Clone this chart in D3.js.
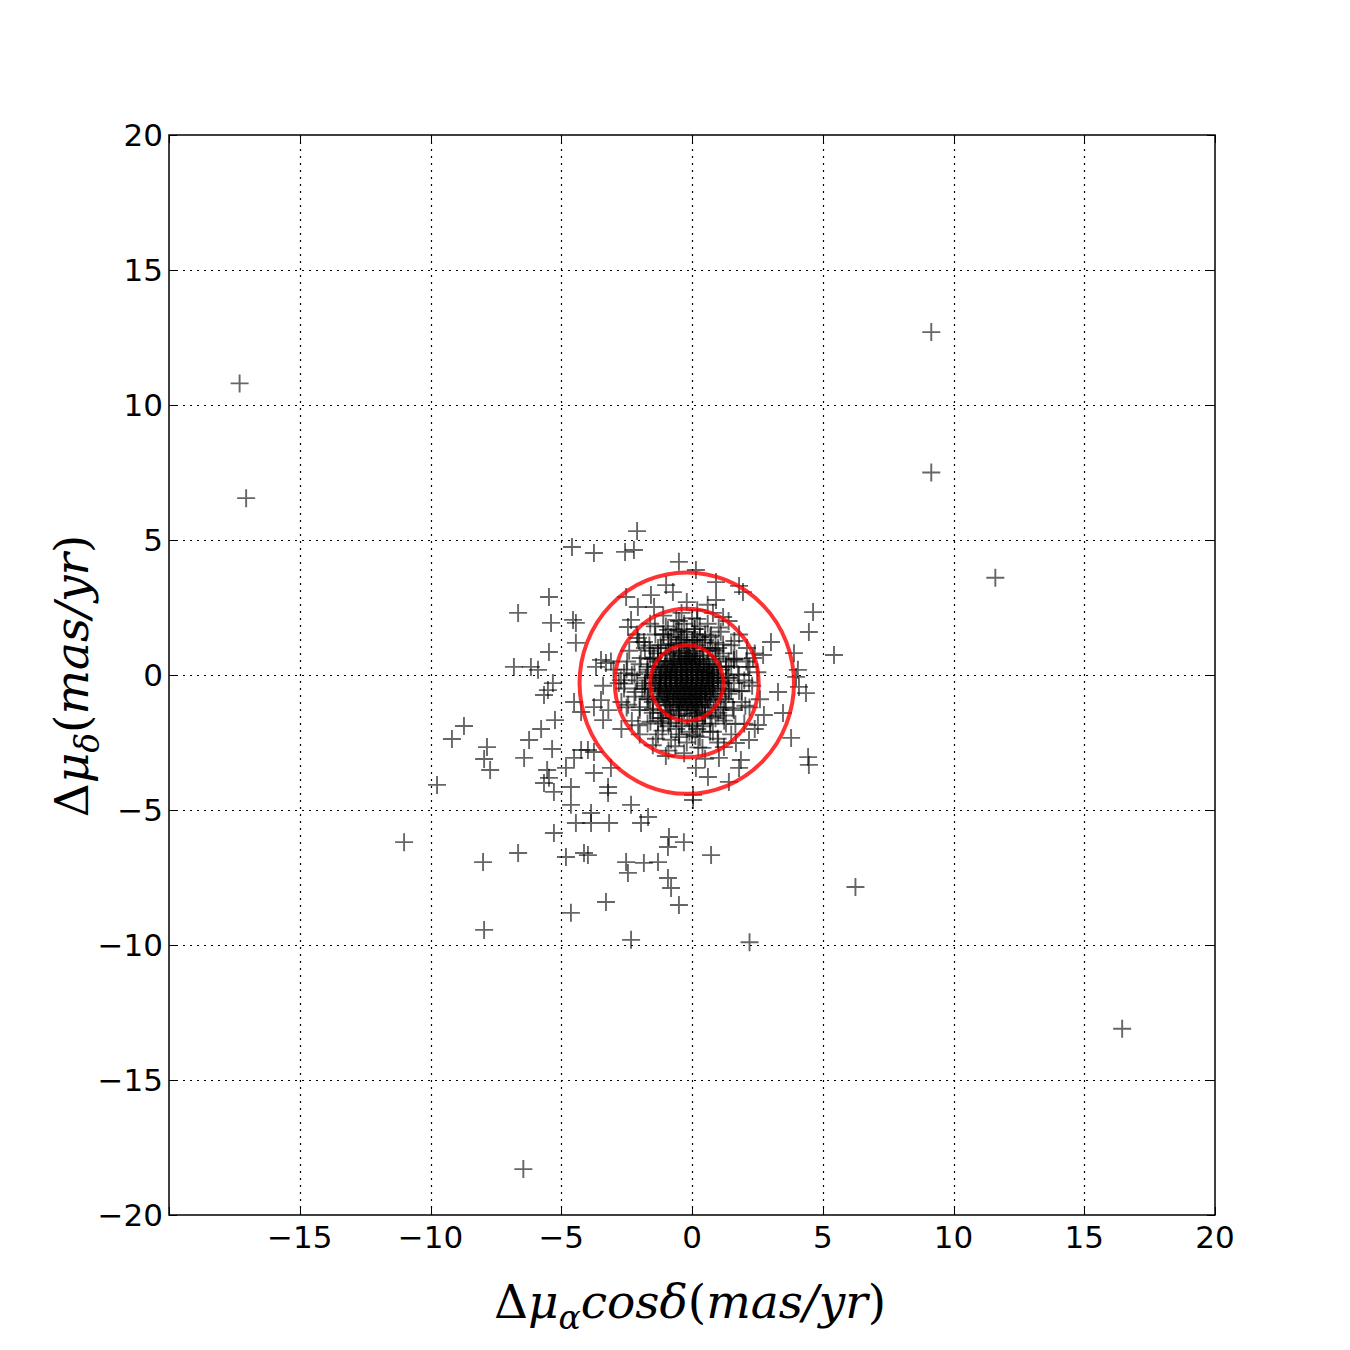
<!DOCTYPE html>
<html>
<head>
<meta charset="utf-8">
<script src="https://cdnjs.cloudflare.com/ajax/libs/d3/7.8.5/d3.min.js"></script>
<style>
  body { margin: 0; background: #fff; }
  svg { display: block; }
  .tick-label { font-family: "DejaVu Sans", sans-serif; font-size: 31px; fill: #000; }
  .axis-title { font-family: "DejaVu Serif", serif; font-size: 47px; fill: #000; }
</style>
</head>
<body>
<svg id="chart" width="1350" height="1350"></svg>
<script>
// tick values
const xTicks = [-20, -15, -10, -5, 0, 5, 10, 15, 20];
const xTickLabels = [-15, -10, -5, 0, 5, 10, 15, 20];
const yTicks = [-20, -15, -10, -5, 0, 5, 10, 15, 20];

// red circles: centre and radii (mas/yr)
const circleCenter = [-0.2, -0.3];
const circleRadii = [1.4, 2.75, 4.1];

// dense core, one row per y value
const coreRows = [
  [0.8, [-0.4, -0.15, 0.05]],
  [0.7, [-0.5, -0.3, -0.1, 0.1]],
  [0.6, [-0.7, -0.45, -0.25, -0.05, 0.15, 0.3]],
  [0.5, [-0.85, -0.65, -0.4, -0.2, 0.0, 0.2, 0.45]],
  [0.4, [-0.95, -0.75, -0.55, -0.3, -0.1, 0.1, 0.3, 0.55]],
  [0.3, [-1.05, -0.8, -0.6, -0.4, -0.2, 0.0, 0.25, 0.45, 0.65]],
  [0.2, [-1.1, -0.9, -0.7, -0.45, -0.25, -0.05, 0.15, 0.35, 0.55, 0.7]],
  [0.1, [-1.15, -0.95, -0.75, -0.55, -0.35, -0.15, 0.05, 0.25, 0.45, 0.65, 0.75]],
  [0.0, [-1.2, -1.0, -0.8, -0.6, -0.4, -0.2, 0.0, 0.2, 0.4, 0.6, 0.8]],
  [-0.1, [-1.2, -1.0, -0.85, -0.65, -0.45, -0.25, -0.05, 0.15, 0.35, 0.55, 0.75, 0.8]],
  [-0.2, [-1.25, -1.05, -0.85, -0.6, -0.4, -0.2, 0.0, 0.2, 0.4, 0.6, 0.8]],
  [-0.3, [-1.25, -1.0, -0.8, -0.6, -0.4, -0.2, 0.0, 0.2, 0.4, 0.65, 0.85]],
  [-0.4, [-1.2, -1.0, -0.8, -0.55, -0.35, -0.15, 0.05, 0.25, 0.45, 0.65, 0.8]],
  [-0.5, [-1.25, -1.05, -0.85, -0.65, -0.45, -0.25, -0.05, 0.15, 0.35, 0.55, 0.8]],
  [-0.6, [-1.2, -0.95, -0.75, -0.55, -0.3, -0.1, 0.1, 0.3, 0.5, 0.7]],
  [-0.7, [-1.15, -0.95, -0.7, -0.5, -0.3, -0.1, 0.1, 0.3, 0.5, 0.75]],
  [-0.8, [-1.1, -0.9, -0.7, -0.45, -0.25, -0.05, 0.15, 0.35, 0.55, 0.7]],
  [-0.9, [-1.05, -0.85, -0.6, -0.4, -0.2, 0.0, 0.2, 0.4, 0.6]],
  [-1.0, [-0.95, -0.75, -0.55, -0.35, -0.15, 0.05, 0.25, 0.5]],
  [-1.1, [-0.85, -0.6, -0.4, -0.2, 0.0, 0.2, 0.4]],
  [-1.2, [-0.7, -0.45, -0.25, -0.05, 0.15, 0.3]],
  [-1.3, [-0.5, -0.3, -0.1, 0.1]]
];

// crowded stars just around the core
const ringPoints = [
  [1.0, -0.25], [0.95, 0.05], [0.85, 0.3], [0.62, 0.57], [0.42, 0.72], [0.1, 0.88], [-0.22, 0.92], [-0.5, 0.84],
  [-0.82, 0.75], [-1.03, 0.52], [-1.26, 0.33], [-1.35, 0.0], [-1.42, -0.32], [-1.33, -0.6], [-1.25, -0.93], [-1.02, -1.13],
  [-0.82, -1.36], [-0.5, -1.44], [-0.18, -1.52], [0.12, -1.44], [0.38, -1.36], [0.67, -1.12], [0.83, -0.92], [0.98, -0.6],
  [1.37, -0.1], [1.3, 0.33], [1.05, 0.69], [0.79, 0.95], [0.4, 1.2], [0.03, 1.27], [-0.43, 1.31], [-0.79, 1.16],
  [-1.19, 0.99], [-1.45, 0.65], [-1.7, 0.3], [-1.77, -0.1], [-1.81, -0.52], [-1.66, -0.9], [-1.49, -1.25], [-1.15, -1.59],
  [-0.83, -1.76], [-0.39, -1.9], [0.03, -1.87], [0.43, -1.8], [0.75, -1.55], [1.09, -1.29], [1.26, -0.89], [1.41, -0.53],
  [1.76, 0.03], [1.6, 0.6], [1.19, 1.13], [0.73, 1.46], [0.1, 1.7], [-0.53, 1.66], [-1.09, 1.5], [-1.63, 1.09],
  [-1.96, 0.63], [-2.2, 0.03], [-2.16, -0.63], [-2.0, -1.19], [-1.59, -1.73], [-1.13, -2.06], [-0.49, -2.3], [0.13, -2.26],
  [0.69, -2.1], [1.23, -1.69], [1.56, -1.23], [1.8, -0.59],
  [2.18, -0.28], [2.08, 0.5], [1.62, 1.26], [1.02, 1.76], [0.2, 2.08], [-0.6, 2.04], [-1.42, 1.8], [-2.02, 1.22],
  [-2.48, 0.5], [-2.58, -0.32], [-2.44, -1.1], [-2.06, -1.86], [-1.38, -2.36], [-0.64, -2.64], [0.24, -2.68], [0.98, -2.36],
  [1.66, -1.82], [2.04, -1.14],
  [-0.6, 1.5], [-0.2, 1.6], [0.2, 1.3], [-0.9, 1.1], [-0.3, 1.9], [0.3, 1.8], [-1.1, 1.5], [0.7, 1.4],
  [-0.5, 1.2], [0.0, 1.3], [-1.3, 0.8], [0.9, 0.9]
];

// fuzzy halo around the core
const haloPoints = [
  [-0.2, 1.2], [0.2, 1.1], [-0.6, 1.1], [0.6, 0.9], [-1.0, 0.8], [0.9, 0.6], [-1.3, 0.5], [1.1, 0.2],
  [-1.5, 0.0], [1.2, -0.3], [-1.6, -0.5], [1.1, -0.8], [-1.5, -1.0], [0.9, -1.2], [-1.2, -1.4], [0.5, -1.5],
  [-0.8, -1.6], [0.0, -1.7], [-0.4, -1.8], [-0.4, 1.4], [0.1, 1.5], [-0.9, 1.3], [0.5, 1.3], [-1.3, 1.0],
  [1.0, 1.0], [-1.6, 0.6], [1.3, 0.3], [-1.7, 0.2], [1.4, -0.1], [-1.8, -0.3], [1.5, -0.6], [-1.7, -0.8],
  [1.3, -1.0], [-1.6, -1.3], [1.0, -1.4], [-1.3, -1.7], [0.7, -1.8], [-0.9, -1.9], [0.2, -2.0], [-0.5, -2.2],
  [-0.1, 1.0], [0.4, 1.0], [-0.7, 0.9], [0.8, 0.4], [-1.2, 0.3], [1.0, -0.1], [-1.4, -0.3], [0.9, -0.7],
  [-1.3, -0.8], [0.6, -1.2], [-1.0, -1.3], [0.2, -1.4], [-0.5, -1.5],
  [1.3, -0.2], [1.5, 0.3], [1.2, 0.8], [0.9, 1.2], [0.5, 1.5], [0.1, 1.7], [-0.4, 1.6], [-0.8, 1.4],
  [-1.2, 1.1], [-1.5, 0.6], [-1.7, 0.1], [-1.8, -0.4], [-1.7, -0.9], [-1.5, -1.4], [-1.1, -1.8], [-0.6, -2.0],
  [-0.1, -2.1], [0.4, -1.9], [0.9, -1.6], [1.2, -1.2], [1.4, -0.7], [1.8, 0.0], [1.9, -0.6], [1.7, 0.6],
  [1.5, 1.1], [1.1, 1.6], [0.6, 1.9], [0.0, 2.1], [-0.5, 2.0], [-1.0, 1.8], [-1.4, 1.5], [-1.8, 1.0],
  [-2.0, 0.4], [-2.1, -0.2], [-2.2, -0.8], [-2.0, -1.3], [-1.7, -1.8], [-1.3, -2.2], [-0.8, -2.4], [-0.2, -2.5],
  [0.3, -2.3], [0.8, -2.1], [1.3, -1.8], [1.6, -1.3], [1.9, -1.0], [2.2, 0.3], [2.3, -0.4], [2.1, 1.0],
  [1.8, 1.5], [1.4, 2.0], [0.8, 2.3], [0.2, 2.4], [-0.4, 2.3], [-1.1, 2.2], [-1.6, 1.9], [-2.1, 1.5],
  [-2.4, 0.9], [-2.5, 0.2], [-2.6, -0.5], [-2.5, -1.2], [-2.3, -1.7], [-2.0, -2.2], [-1.5, -2.6], [-0.9, -2.8],
  [-0.3, -2.9], [0.4, -2.7], [1.0, -2.5], [1.5, -2.2], [2.0, -1.8], [2.2, -1.2],
  [1.0, 0.3], [1.1, -0.5], [-1.5, -0.1], [-1.4, 0.3], [0.7, 1.0], [-0.3, 1.3], [0.2, -1.7], [-0.9, -1.5],
  [1.6, -0.3], [-1.9, -0.5], [0.3, 1.4], [-1.2, -1.6], [1.4, 0.5], [0.5, -1.5], [-1.6, 0.9], [2.0, -0.2],
  [-0.7, 1.7], [1.2, -1.5], [-2.3, 0.0], [0.0, -2.2], [-2.8, -0.3], [-2.7, -1.0], [-3.0, 0.2], [2.5, 0.1],
  [2.6, -0.9], [2.4, 0.8], [-0.2, 2.7], [0.6, 2.6], [-1.0, -3.0], [0.5, -3.1], [-2.7, -2.0], [2.4, -2.0],
  [-3.2, -1.3], [-3.4, -0.4], [-3.1, 0.5]
];

// scattered stars outside the core
const outerPoints = [
  [-2.10, 5.33], [-4.59, 4.74], [-3.75, 4.52], [-2.56, 4.56], [-2.22, 4.63], [-0.50, 4.19], [-5.47, 2.89],
  [-6.65, 2.30], [-5.39, 1.93], [-4.55, 2.04], [-4.44, 1.93], [-4.44, 1.19], [-5.47, 0.85], [-6.81, 0.30],
  [-6.16, 0.30], [-5.89, 0.19], [-5.32, -0.30], [-0.99, 3.33], [-1.57, 2.96], [-0.73, 3.07], [-2.52, 2.89],
  [-2.07, 2.52], [-1.45, 2.52], [-2.33, 2.04], [-2.45, 1.78], [-2.07, 1.37], [-1.84, 1.22], [-0.92, 1.67],
  [-3.48, 0.56], [-3.29, 0.44], [-3.67, 0.30], [-2.60, 0.07], [-2.72, -0.19],
  [0.15, 3.89], [0.92, 3.44], [1.80, 3.30], [1.95, 3.07], [0.92, 2.78], [1.19, 2.15], [4.63, 2.33],
  [4.47, 1.59], [3.02, 1.22], [5.43, 0.74], [3.90, 0.81], [2.72, 0.74], [2.33, 0.63], [4.05, 0.19],
  [3.98, -0.07], [2.14, 0.30], [1.61, 0.56],
  [3.29, -0.63], [4.36, -0.67], [4.09, -0.44], [2.75, -1.48], [2.52, -1.85], [3.48, -1.41], [3.79, -2.33],
  [4.44, -3.04], [4.47, -3.33], [2.18, -2.41], [1.87, -3.15], [1.80, -3.44], [1.03, -3.07], [1.41, -3.96],
  [0.61, -3.78], [0.15, -3.44], [0.04, -4.44], [0.04, -4.63], [-0.31, -6.19], [0.73, -6.67], [1.68, -2.52],
  [1.22, -2.67],
  [-8.72, -1.89], [-9.18, -2.37], [-7.84, -2.67], [-7.95, -3.11], [-7.72, -3.52], [-9.75, -4.07], [-6.23, -2.41],
  [-6.42, -3.07], [-5.77, -2.00], [-5.24, -1.67], [-5.35, -2.74], [-5.51, -0.56], [-5.66, -0.74], [-5.54, -3.52],
  [-5.47, -3.81], [-5.66, -4.00], [-5.28, -4.33], [-4.82, -3.44], [-4.63, -4.15], [-4.63, -4.81], [-4.51, -3.07],
  [-4.24, -2.78], [-3.98, -2.78], [-3.75, -2.85], [-4.51, -1.00], [-4.24, -1.37], [-3.75, -1.19], [-3.48, -0.93],
  [-3.40, -1.67], [-3.75, -3.63], [-3.10, -3.44], [-3.21, -4.15], [-3.21, -4.37], [-2.33, -4.81], [-3.86, -5.11],
  [-4.44, -5.48], [-3.86, -5.48], [-3.17, -5.48], [-1.95, -5.48], [-1.68, -5.26], [-5.28, -5.85], [-11.01, -6.19],
  [-6.65, -6.59], [-7.99, -6.93], [-4.82, -6.74], [-4.13, -6.59], [-3.98, -6.67], [-2.52, -6.93], [-1.84, -6.96],
  [-1.30, -6.93], [-2.45, -7.33], [-0.88, -6.00], [-0.92, -6.37], [-0.92, -7.52], [-0.80, -7.89], [-3.29, -8.41],
  [-4.63, -8.81], [-7.95, -9.44], [-2.33, -9.81], [-0.50, -8.52],
  [-17.3, 10.8], [-17.05, 6.55], [9.15, 12.7], [9.15, 7.5], [11.6, 3.6], [16.45, -13.1], [-6.45, -18.3],
  [6.25, -7.85], [2.2, -9.9]
];

const points = coreRows.flatMap(([yv, xs]) => xs.map(xv => [xv, yv]))
  .concat(ringPoints, haloPoints, outerPoints);

const plot = { left: 169, right: 1215, top: 135, bottom: 1215 };
const svg = d3.select('#chart');

const x = d3.scaleLinear().domain([-20, 20]).range([plot.left, plot.right]);
const y = d3.scaleLinear().domain([-20, 20]).range([plot.bottom, plot.top]);

// grid
const grid = svg.append('g')
  .attr('stroke', '#000')
  .attr('stroke-width', 1.2)
  .attr('stroke-dasharray', '2,5');
grid.selectAll('.gx').data(xTicks.slice(1, -1)).join('line')
  .attr('x1', d => Math.round(x(d)) + 0.5).attr('x2', d => Math.round(x(d)) + 0.5)
  .attr('y1', plot.top).attr('y2', plot.bottom);
grid.selectAll('.gy').data(yTicks.slice(1, -1)).join('line')
  .attr('y1', d => Math.round(y(d)) + 0.5).attr('y2', d => Math.round(y(d)) + 0.5)
  .attr('x1', plot.left).attr('x2', plot.right);

// data as '+' markers
const arm = 9;
svg.append('g')
  .attr('stroke', '#000')
  .attr('stroke-opacity', 0.6)
  .attr('stroke-width', 1.9)
  .selectAll('path').data(points).join('path')
  .attr('d', d => {
    const px = x(d[0]), py = y(d[1]);
    return `M${px - arm},${py}H${px + arm}M${px},${py - arm}V${py + arm}`;
  });

// red circles
svg.append('g').selectAll('ellipse').data(circleRadii).join('ellipse')
  .attr('cx', x(circleCenter[0]))
  .attr('cy', y(circleCenter[1]))
  .attr('rx', r => x(r) - x(0))
  .attr('ry', r => y(0) - y(r))
  .attr('fill', 'none')
  .attr('stroke', '#ff0000')
  .attr('stroke-opacity', 0.8)
  .attr('stroke-width', 4);

// frame
svg.append('rect')
  .attr('x', plot.left).attr('y', plot.top)
  .attr('width', plot.right - plot.left).attr('height', plot.bottom - plot.top)
  .attr('fill', 'none').attr('stroke', '#000').attr('stroke-width', 1.5);

// inward ticks on all four sides
const tlen = 8;
const ticks = svg.append('g').attr('stroke', '#000').attr('stroke-width', 1);
xTicks.forEach(t => {
  const px = Math.round(x(t)) + 0.5;
  ticks.append('line').attr('x1', px).attr('x2', px).attr('y1', plot.bottom).attr('y2', plot.bottom - tlen);
  ticks.append('line').attr('x1', px).attr('x2', px).attr('y1', plot.top).attr('y2', plot.top + tlen);
});
yTicks.forEach(t => {
  const py = Math.round(y(t)) + 0.5;
  ticks.append('line').attr('y1', py).attr('y2', py).attr('x1', plot.left).attr('x2', plot.left + tlen);
  ticks.append('line').attr('y1', py).attr('y2', py).attr('x1', plot.right).attr('x2', plot.right - tlen);
});

const fmt = d3.format('d');
svg.append('g').selectAll('text').data(xTickLabels).join('text')
  .attr('class', 'tick-label')
  .attr('x', d => x(d))
  .attr('y', plot.bottom + 33)
  .attr('text-anchor', 'middle')
  .text(fmt);
svg.append('g').selectAll('text').data(yTicks).join('text')
  .attr('class', 'tick-label')
  .attr('x', plot.left - 6)
  .attr('y', d => y(d) + 11)
  .attr('text-anchor', 'end')
  .text(fmt);

// axis titles
const xt = svg.append('text').attr('class', 'axis-title')
  .attr('x', 690).attr('y', 1318).attr('text-anchor', 'middle');
xt.append('tspan').text('Δ');
xt.append('tspan').attr('font-style', 'italic').text('μ');
xt.append('tspan').attr('font-style', 'italic').attr('font-size', 33).attr('dy', 11).text('α');
xt.append('tspan').attr('font-style', 'italic').attr('dy', -11).text('cosδ');
xt.append('tspan').text('(');
xt.append('tspan').attr('font-style', 'italic').text('mas/yr');
xt.append('tspan').text(')');

const yt = svg.append('text').attr('class', 'axis-title')
  .attr('transform', 'translate(88,676) rotate(-90)')
  .attr('text-anchor', 'middle');
yt.append('tspan').text('Δ');
yt.append('tspan').attr('font-style', 'italic').text('μ');
yt.append('tspan').attr('font-style', 'italic').attr('font-size', 33).attr('dy', 11).text('δ');
yt.append('tspan').attr('dy', -11).text('(');
yt.append('tspan').attr('font-style', 'italic').text('mas/yr');
yt.append('tspan').text(')');
</script>
</body>
</html>
